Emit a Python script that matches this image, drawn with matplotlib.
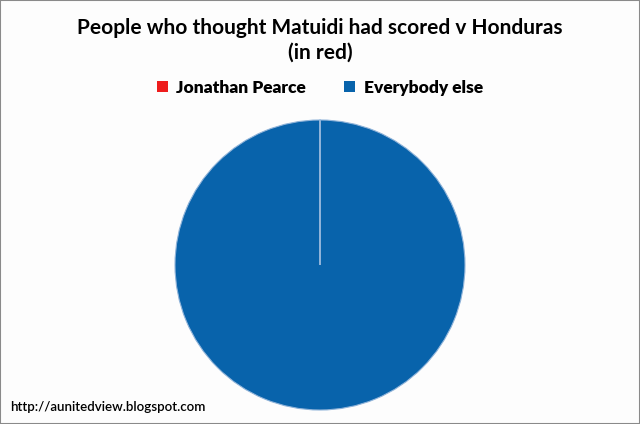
import matplotlib
matplotlib.use("Agg")
from matplotlib import pyplot as plt
from matplotlib.patches import Rectangle

labels = ["Jonathan Pearce", "Everybody else"]
values = [1, 9999]
colors = ["#ee1c1c", "#0863ab"]

title = "People who thought Matuidi had scored v Honduras\n(in red)"
url = "http://aunitedview.blogspot.com"

plt.rcParams['font.family'] = ['Lato', 'DejaVu Sans']

fig = plt.figure(figsize=(6.4, 4.24), dpi=100)
fig.patch.set_facecolor("#fdfdfd")

# pie centred at about (320, 265) px, radius 145 px
ax = fig.add_axes([175 / 640, 14 / 424, 290 / 640, 290 / 424])
wedges, _ = ax.pie(values, colors=colors, startangle=90, counterclock=False,
	wedgeprops=dict(edgecolor="#8fb3d9", linewidth=0.8))
ax.set_xlim(-1, 1)
ax.set_ylim(-1, 1)
ax.set_aspect("equal")
ax.axis("off")

fig.text(0.5, 1 - 40 / 424, title, ha="center", va="center",
	fontsize=15, fontweight="bold", linespacing=1.3)

leg = fig.legend(wedges, labels, loc="center", bbox_to_anchor=(0.5, 1 - 88 / 424),
	ncol=2, frameon=False, fontsize=12.5, handlelength=0.6, handleheight=0.6,
	handletextpad=0.5, columnspacing=2.2)
for h in leg.legend_handles:
	h.set_edgecolor("none")
for t in leg.get_texts():
	t.set_fontweight("heavy")

fig.text(10 / 640, 1 - 407 / 424, url, ha="left", va="center", fontsize=9.6,
	fontweight="semibold")

fig.patches.append(Rectangle((0, 0), 1, 1, transform=fig.transFigure,
	fill=False, edgecolor="#8a8a8a", linewidth=1.5))

fig.savefig("out.png", dpi=100, facecolor=fig.get_facecolor())
